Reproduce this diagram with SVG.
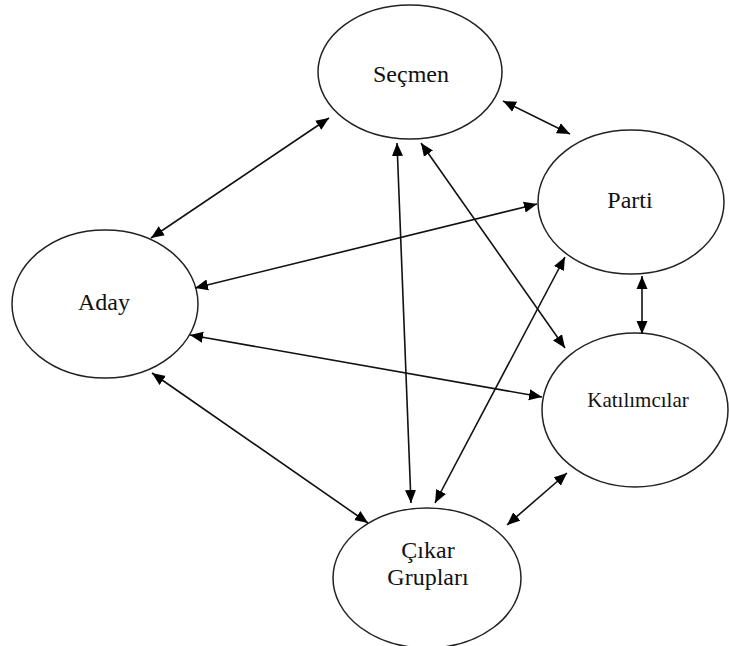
<svg xmlns="http://www.w3.org/2000/svg" width="729" height="646" viewBox="0 0 729 646">
<style>
.node ellipse{fill:#fff;stroke:#222;stroke-width:1.5}
.node text{font-family:"Liberation Serif","Times New Roman",serif;font-size:24px;fill:#111;text-anchor:middle}
.conn line{stroke:#111;stroke-width:1.6;marker-start:url(#ah);marker-end:url(#ah)}
</style>
<defs>
<marker id="ah" markerUnits="userSpaceOnUse" markerWidth="14" markerHeight="12" refX="13" refY="6" orient="auto-start-reverse">
<path d="M0,0.5 L13,6 L0,11.5 z" fill="#000"/>
</marker>
</defs>
<rect width="729" height="646" fill="#fff"/>
<g id="secmen" class="node"><ellipse cx="410" cy="72" rx="92" ry="67"/><text x="411" y="82">Seçmen</text></g>
<g id="parti" class="node"><ellipse cx="631" cy="202" rx="93" ry="72"/><text x="630" y="208">Parti</text></g>
<g id="aday" class="node"><ellipse cx="105" cy="304" rx="93" ry="74"/><text x="104" y="310">Aday</text></g>
<g id="katilimcilar" class="node"><ellipse cx="635" cy="410" rx="93" ry="77"/><text x="638" y="407" style="font-size:21px">Katılımcılar</text></g>
<g id="cikar" class="node"><ellipse cx="427" cy="578" rx="94" ry="70"/><text x="428" y="558">Çıkar</text><text x="428" y="585">Grupları</text></g>
<g id="connectors" class="conn">
<line x1="151" y1="238" x2="329" y2="118"/>
<line x1="503" y1="101" x2="570" y2="134"/>
<line x1="195" y1="288" x2="537" y2="204"/>
<line x1="397" y1="143" x2="411" y2="503"/>
<line x1="421" y1="143" x2="565" y2="348"/>
<line x1="565" y1="257" x2="435" y2="503"/>
<line x1="190" y1="335" x2="542" y2="397"/>
<line x1="152" y1="373" x2="368" y2="523"/>
<line x1="567" y1="473" x2="507" y2="525"/>
<line x1="642" y1="276" x2="642" y2="334"/>
</g>
</svg>
